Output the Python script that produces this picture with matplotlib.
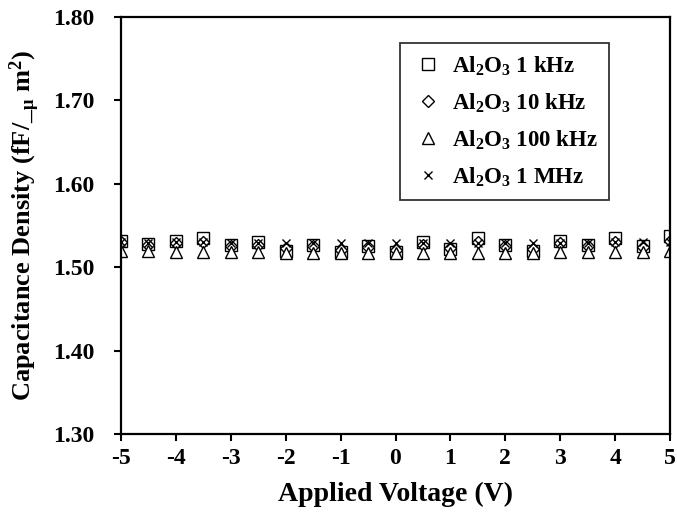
import matplotlib
matplotlib.use("Agg")
import matplotlib.pyplot as plt

plt.rcParams["font.family"] = ["Liberation Serif", "DejaVu Serif"]
plt.rcParams["font.weight"] = "bold"
plt.rcParams["axes.unicode_minus"] = False
plt.rcParams["mathtext.fontset"] = "custom"
plt.rcParams["mathtext.rm"] = "Liberation Serif:bold"
plt.rcParams["mathtext.it"] = "Liberation Serif:bold"
plt.rcParams["mathtext.bf"] = "Liberation Serif:bold"

voltage = [-5, -4.5, -4, -3.5, -3, -2.5, -2, -1.5, -1, -0.5, 0,
           0.5, 1, 1.5, 2, 2.5, 3, 3.5, 4, 4.5, 5]

c_1khz = [1.532, 1.528, 1.532, 1.535, 1.527, 1.530, 1.520, 1.527, 1.518, 1.525, 1.518,
          1.530, 1.522, 1.535, 1.527, 1.520, 1.532, 1.527, 1.535, 1.525, 1.537]
c_10khz = [1.530, 1.527, 1.529, 1.530, 1.526, 1.527, 1.523, 1.526, 1.521, 1.524, 1.521,
           1.527, 1.523, 1.530, 1.526, 1.522, 1.529, 1.526, 1.530, 1.524, 1.532]
c_100khz = [1.519, 1.519, 1.518, 1.518, 1.518, 1.518, 1.517, 1.517, 1.517, 1.517, 1.517,
            1.517, 1.517, 1.517, 1.517, 1.517, 1.518, 1.518, 1.518, 1.518, 1.519]
c_1mhz = [1.530, 1.529, 1.530, 1.530, 1.529, 1.529, 1.529, 1.529, 1.529, 1.529, 1.529,
          1.529, 1.529, 1.529, 1.529, 1.529, 1.529, 1.529, 1.530, 1.530, 1.530]

y_ticks = [1.30, 1.40, 1.50, 1.60, 1.70, 1.80]

SERIES = [
    (c_1khz, "s", "Al$_2$O$_3$ 1 kHz", 9),
    (c_10khz, "D", "Al$_2$O$_3$ 10 kHz", 6),
    (c_100khz, "^", "Al$_2$O$_3$ 100 kHz", 8),
    (c_1mhz, "x", "Al$_2$O$_3$ 1 MHz", 6),
]

fig = plt.figure(figsize=(6.77, 5.18), dpi=100)
ax = fig.add_axes([121 / 677, 1 - 434 / 518, 549 / 677, 417 / 518])

for vals, marker, label, ms in SERIES:
    if marker == "x":
        ax.plot(voltage, vals, linestyle="none", marker=marker, ms=ms, color="black",
                mew=1.0, label=label)
    else:
        ax.plot(voltage, vals, linestyle="none", marker=marker, ms=ms,
                mfc="white", mec="black", mew=1.0, label=label)

ax.set_xlim(-5, 5)
ax.set_ylim(1.30, 1.80)
ax.set_xticks(range(-5, 6))
ax.set_yticks(y_ticks)
ax.set_yticklabels([f"{v:.2f}" for v in y_ticks])
ax.tick_params(direction="out", length=5, width=1.5, labelsize=17)
ax.tick_params(axis="x", pad=5)
ax.tick_params(axis="y", pad=14)
for s in ax.spines.values():
    s.set_linewidth(1.6)

ax.set_xlabel("Applied Voltage (V)", fontsize=20, fontweight="bold", labelpad=9)
ax.set_ylabel("Capacitance Density (fF/_$_{\\mu}$ m$^2$)", fontsize=19,
              fontweight="bold", labelpad=8)

leg = ax.legend(loc="upper right", bbox_to_anchor=(0.889, 0.938), borderaxespad=0,
                frameon=True, fancybox=False, edgecolor="black", fontsize=16.5,
                handlelength=1.5, handletextpad=0.26, labelspacing=0.6, borderpad=0.5)
leg.get_frame().set_linewidth(1.3)

fig.savefig("out.png", dpi=100)
